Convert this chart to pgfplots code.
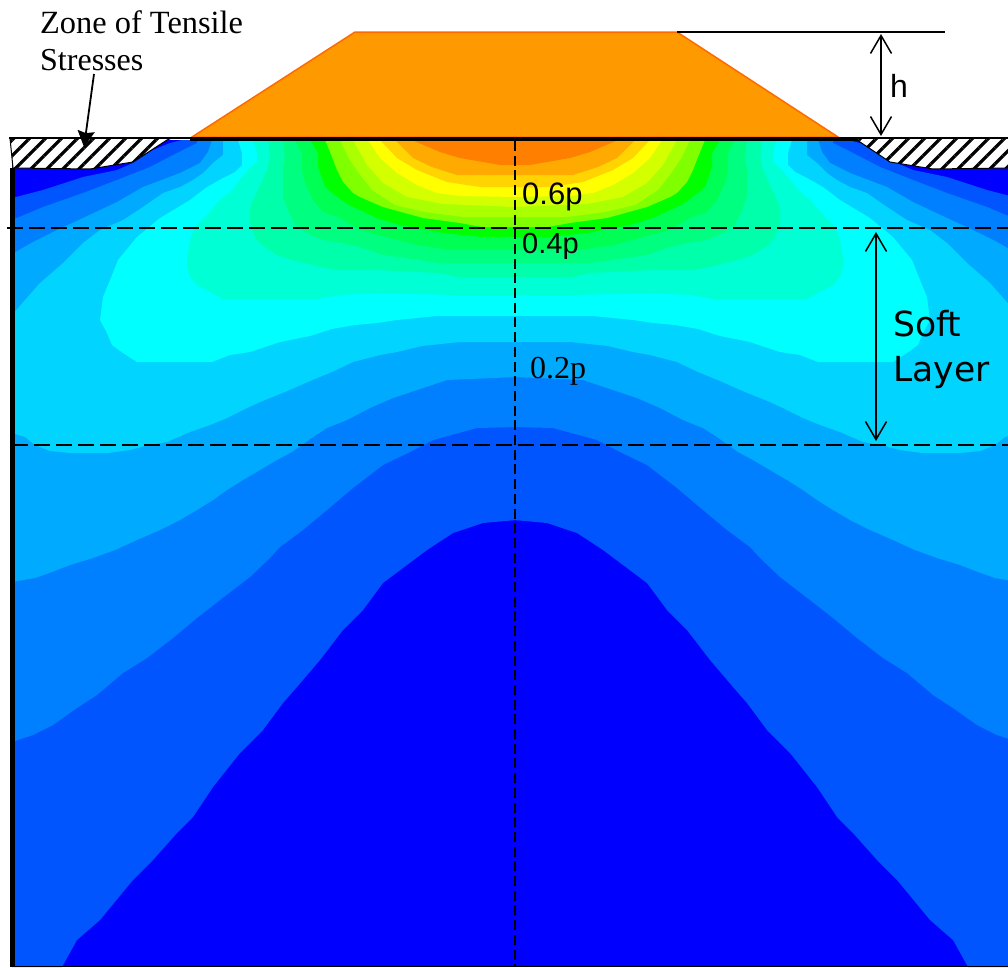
\documentclass[border=0pt]{standalone}
\usepackage{fontspec}
\usepackage{pgfplots}
\usepackage{pgfplotstable}
\pgfplotsset{compat=1.18}
\usetikzlibrary{arrows.meta,patterns.meta}
\setmainfont{Liberation Serif}
\newfontfamily\arial{Liberation Sans}
\newfontfamily\dejavu{DejaVu Sans}

\definecolor{cA}{HTML}{0000FF}
\definecolor{cB}{HTML}{0055FF}
\definecolor{cC}{HTML}{0080FF}
\definecolor{cD}{HTML}{00AAFF}
\definecolor{cE}{HTML}{00D4FF}
\definecolor{cF}{HTML}{00FFFF}
\definecolor{cG}{HTML}{00FFD4}
\definecolor{cH}{HTML}{00FFAA}
\definecolor{cI}{HTML}{00FF80}
\definecolor{cJ}{HTML}{00FF55}
\definecolor{cK}{HTML}{00FF00}
\definecolor{cL}{HTML}{80FF00}
\definecolor{cM}{HTML}{AAFF00}
\definecolor{cN}{HTML}{D4FF00}
\definecolor{cO}{HTML}{FFFF00}
\definecolor{cP}{HTML}{FFD400}
\definecolor{cQ}{HTML}{FFAA00}
\definecolor{cR}{HTML}{FF8000}
\definecolor{fillorange}{HTML}{FF9900}
\definecolor{edgeorange}{HTML}{FF6A00}

% contour levels, left half in pixel coords, right half is the mirror about x=515
\pgfplotstableread[row sep=\\]{x y\\ 182 140\\ 170 143\\ 153 150\\ 133 163\\ 117 170\\ 83 177\\ 43 190\\ 12 198\\ 12 967\\ 62 967\\ 77 940\\ 100 920\\ 133 880\\ 153 860\\ 177 833\\ 193 817\\ 213 787\\ 240 753\\ 263 730\\ 283 703\\ 297 687\\ 320 660\\ 343 630\\ 363 610\\ 383 583\\ 403 568\\ 427 550\\ 453 533\\ 483 523\\ 516 520\\ 516 140\\}\lvB
\pgfplotstableread[row sep=\\]{x y\\ 197 140\\ 197 143\\ 177 153\\ 150 167\\ 117 180\\ 83 193\\ 43 207\\ 12 220\\ 12 742\\ 33 735\\ 53 725\\ 77 708\\ 97 695\\ 123 673\\ 147 658\\ 173 638\\ 197 618\\ 220 600\\ 250 577\\ 270 558\\ 280 547\\ 303 530\\ 327 510\\ 353 488\\ 383 465\\ 410 452\\ 433 440\\ 477 428\\ 516 427\\ 516 140\\}\lvC
\pgfplotstableread[row sep=\\]{x y\\ 212 140\\ 208 152\\ 200 163\\ 190 168\\ 180 173\\ 143 187\\ 117 202\\ 83 218\\ 57 230\\ 33 242\\ 12 254\\ 12 582\\ 35 578\\ 52 572\\ 70 565\\ 93 558\\ 115 550\\ 137 540\\ 160 530\\ 180 520\\ 197 510\\ 213 500\\ 227 490\\ 243 480\\ 260 470\\ 277 460\\ 292 452\\ 313 437\\ 327 428\\ 347 420\\ 370 408\\ 393 398\\ 423 388\\ 447 380\\ 516 377\\ 516 140\\}\lvD
\pgfplotstableread[row sep=\\]{x y\\ 223 140\\ 223 155\\ 213 163\\ 203 173\\ 193 180\\ 180 187\\ 163 193\\ 143 207\\ 123 220\\ 100 230\\ 83 243\\ 63 263\\ 40 283\\ 25 300\\ 12 315\\ 12 433\\ 25 437\\ 35 445\\ 50 451\\ 70 453\\ 108 453\\ 130 450\\ 145 446\\ 167 442\\ 190 432\\ 210 425\\ 227 418\\ 243 410\\ 260 402\\ 285 392\\ 310 381\\ 332 372\\ 353 362\\ 380 355\\ 397 352\\ 422 346\\ 460 342\\ 516 342\\ 516 140\\}\lvE
\pgfplotstableread[row sep=\\]{x y\\ 238 140\\ 242 153\\ 242 165\\ 235 172\\ 223 178\\ 207 187\\ 190 200\\ 160 218\\ 137 237\\ 118 260\\ 110 280\\ 103 297\\ 100 320\\ 107 333\\ 112 345\\ 123 353\\ 137 362\\ 212 362\\ 230 355\\ 250 352\\ 280 342\\ 310 336\\ 332 329\\ 355 325\\ 377 323\\ 397 320\\ 437 316\\ 516 316\\ 516 140\\}\lvF
\pgfplotstableread[row sep=\\]{x y\\ 253 140\\ 257 153\\ 257 162\\ 250 168\\ 242 177\\ 232 190\\ 220 200\\ 205 217\\ 195 227\\ 190 240\\ 187 257\\ 187 267\\ 190 277\\ 197 285\\ 210 292\\ 223 299\\ 317 299\\ 340 295\\ 377 293\\ 457 295\\ 516 295\\ 516 140\\}\lvG
\pgfplotstableread[row sep=\\]{x y\\ 268 140\\ 270 157\\ 267 170\\ 257 192\\ 252 202\\ 250 210\\ 250 223\\ 255 237\\ 262 245\\ 277 255\\ 293 260\\ 317 266\\ 337 270\\ 377 270\\ 440 273\\ 458 277\\ 516 277\\ 516 140\\}\lvH
\pgfplotstableread[row sep=\\]{x y\\ 283 140\\ 285 157\\ 283 170\\ 283 197\\ 288 210\\ 295 225\\ 305 232\\ 323 240\\ 342 243\\ 360 247\\ 383 255\\ 440 263\\ 516 263\\ 516 140\\}\lvI
\pgfplotstableread[row sep=\\]{x y\\ 295 140\\ 302 153\\ 302 170\\ 305 183\\ 313 200\\ 323 212\\ 340 218\\ 360 230\\ 417 245\\ 450 250\\ 516 250\\ 516 140\\}\lvJ
\pgfplotstableread[row sep=\\]{x y\\ 310 140\\ 318 153\\ 318 167\\ 325 187\\ 335 195\\ 347 204\\ 377 218\\ 400 225\\ 443 233\\ 482 237\\ 516 237\\ 516 140\\}\lvK
\pgfplotstableread[row sep=\\]{x y\\ 325 140\\ 332 157\\ 337 170\\ 343 182\\ 353 193\\ 360 197\\ 383 207\\ 423 218\\ 460 223\\ 482 227\\ 516 227\\ 516 140\\}\lvL
\pgfplotstableread[row sep=\\]{x y\\ 340 140\\ 348 157\\ 358 172\\ 372 190\\ 395 205\\ 425 212\\ 463 217\\ 516 217\\ 516 140\\}\lvM
\pgfplotstableread[row sep=\\]{x y\\ 353 140\\ 367 165\\ 383 183\\ 407 197\\ 443 204\\ 516 207\\ 516 140\\}\lvN
\pgfplotstableread[row sep=\\]{x y\\ 368 140\\ 380 158\\ 397 173\\ 417 185\\ 437 193\\ 460 196\\ 516 197\\ 516 140\\}\lvO
\pgfplotstableread[row sep=\\]{x y\\ 380 140\\ 397 158\\ 417 170\\ 447 182\\ 480 187\\ 516 187\\ 516 140\\}\lvP
\pgfplotstableread[row sep=\\]{x y\\ 395 140\\ 413 158\\ 432 167\\ 457 175\\ 516 175\\ 516 140\\}\lvQ
\pgfplotstableread[row sep=\\]{x y\\ 412 140\\ 440 152\\ 460 158\\ 500 165\\ 516 165\\ 516 140\\}\lvR

\newcommand{\band}[2]{%
  \addplot[fill=#1,draw=none,mark=none] table[x=x,y=y]{#2} -- cycle;
  \addplot[fill=#1,draw=none,mark=none] table[x expr={1030-\thisrow{x}},y=y]{#2} -- cycle;
}

\begin{document}
\begin{tikzpicture}
\begin{axis}[
    scale only axis,
    width=1008pt,
    height=967pt,
    xmin=0, xmax=1008,
    ymin=0, ymax=967,
    y dir=reverse,
    hide axis,
    clip mode=individual,
]
% keep the whole canvas in the bounding box
\path (rel axis cs:0,0) rectangle (rel axis cs:1,1);
% base level
\addplot[fill=cA,draw=none,mark=none] coordinates {(12,140) (1008,140) (1008,966) (12,966)} -- cycle;
\band{cB}{\lvB}
\band{cC}{\lvC}
\band{cD}{\lvD}
\band{cE}{\lvE}
\band{cF}{\lvF}
\band{cG}{\lvG}
\band{cH}{\lvH}
\band{cI}{\lvI}
\band{cJ}{\lvJ}
\band{cK}{\lvK}
\band{cL}{\lvL}
\band{cM}{\lvM}
\band{cN}{\lvN}
\band{cO}{\lvO}
\band{cP}{\lvP}
\band{cQ}{\lvQ}
\band{cR}{\lvR}

% embankment
\addplot[fill=fillorange,draw=edgeorange,line width=1.5pt,mark=none] coordinates {(192,137) (355,32) (677,32) (838,137)} -- cycle;

% tensile zones
\addplot[fill=white,draw=none,mark=none] coordinates {(10,138) (172,138) (167,140) (133,162) (90,169) (13,168)} -- cycle;
\addplot[pattern={Lines[angle=45,distance=11.3pt,line width=3.2pt]},pattern color=black,draw=black,line width=1pt,mark=none] coordinates {(10,138) (172,138) (167,140) (133,162) (90,169) (13,168)} -- cycle;
\addplot[fill=white,draw=none,mark=none] coordinates {(1008,138) (852,138) (857,140) (890,162) (933,169) (1008,168)} -- cycle;
\addplot[pattern={Lines[angle=45,distance=11.3pt,line width=3.2pt]},pattern color=black,draw=black,line width=1pt,mark=none] coordinates {(1008,138) (852,138) (857,140) (890,162) (933,169) (1008,168)};

% ground line and frame
\addplot[black,line width=2pt,mark=none] coordinates {(9,138) (1008,138)};
\addplot[black,line width=4pt,mark=none] coordinates {(190,139) (858,139)};
\addplot[black,line width=5pt,mark=none] coordinates {(12,168) (12,966)};
\addplot[black,line width=1pt,mark=none] coordinates {(10,966) (1008,966)};

% layer lines
\addplot[black,line width=1.8pt,mark=none,dash pattern=on 15.5pt off 6.5pt] coordinates {(7,228) (1008,228)};
\addplot[black,line width=1.8pt,mark=none,dash pattern=on 15.5pt off 6.5pt] coordinates {(12,445) (1008,445)};
\addplot[black,line width=2.6pt,mark=none,dash pattern=on 10pt off 4.7pt] coordinates {(515,141) (515,967)};

% dimension lines
\addplot[black,line width=1.5pt,mark=none] coordinates {(677,32) (945,32)};
\draw[black,line width=1.5pt,{Straight Barb[length=18pt,width=21pt]}-{Straight Barb[length=18pt,width=21pt]}] (881,34) -- (881,136);
\draw[black,line width=1.5pt,{Straight Barb[length=18pt,width=21pt]}-{Straight Barb[length=18pt,width=21pt]}] (876,232) -- (876,441);
\draw[black,line width=1.8pt,-{Stealth[length=16pt,width=17pt,inset=2pt]}] (94,74) -- (84,147);

% labels
\node[anchor=base west,inner sep=0pt,font=\fontsize{32.4}{36}\selectfont] at (40,33) {Zone of Tensile};
\node[anchor=base west,inner sep=0pt,font=\fontsize{32}{36}\selectfont] at (40,70) {Stresses};
\node[anchor=base west,inner sep=0pt,font=\fontsize{32}{36}\selectfont\arial] at (890,97) {h};
\node[anchor=base west,inner sep=0pt,font=\fontsize{31}{34}\selectfont\arial] at (522,204) {0.6p};
\node[anchor=base west,inner sep=0pt,font=\fontsize{29}{34}\selectfont\arial] at (522,253) {0.4p};
\node[anchor=base west,inner sep=0pt,font=\fontsize{32}{36}\selectfont] at (530,378) {0.2p};
\node[anchor=base west,inner sep=0pt,font=\fontsize{34.5}{38}\selectfont\dejavu] at (893,336) {Soft};
\node[anchor=base west,inner sep=0pt,font=\fontsize{34.5}{38}\selectfont\dejavu] at (893,381) {Layer};
\end{axis}
\end{tikzpicture}
\end{document}
